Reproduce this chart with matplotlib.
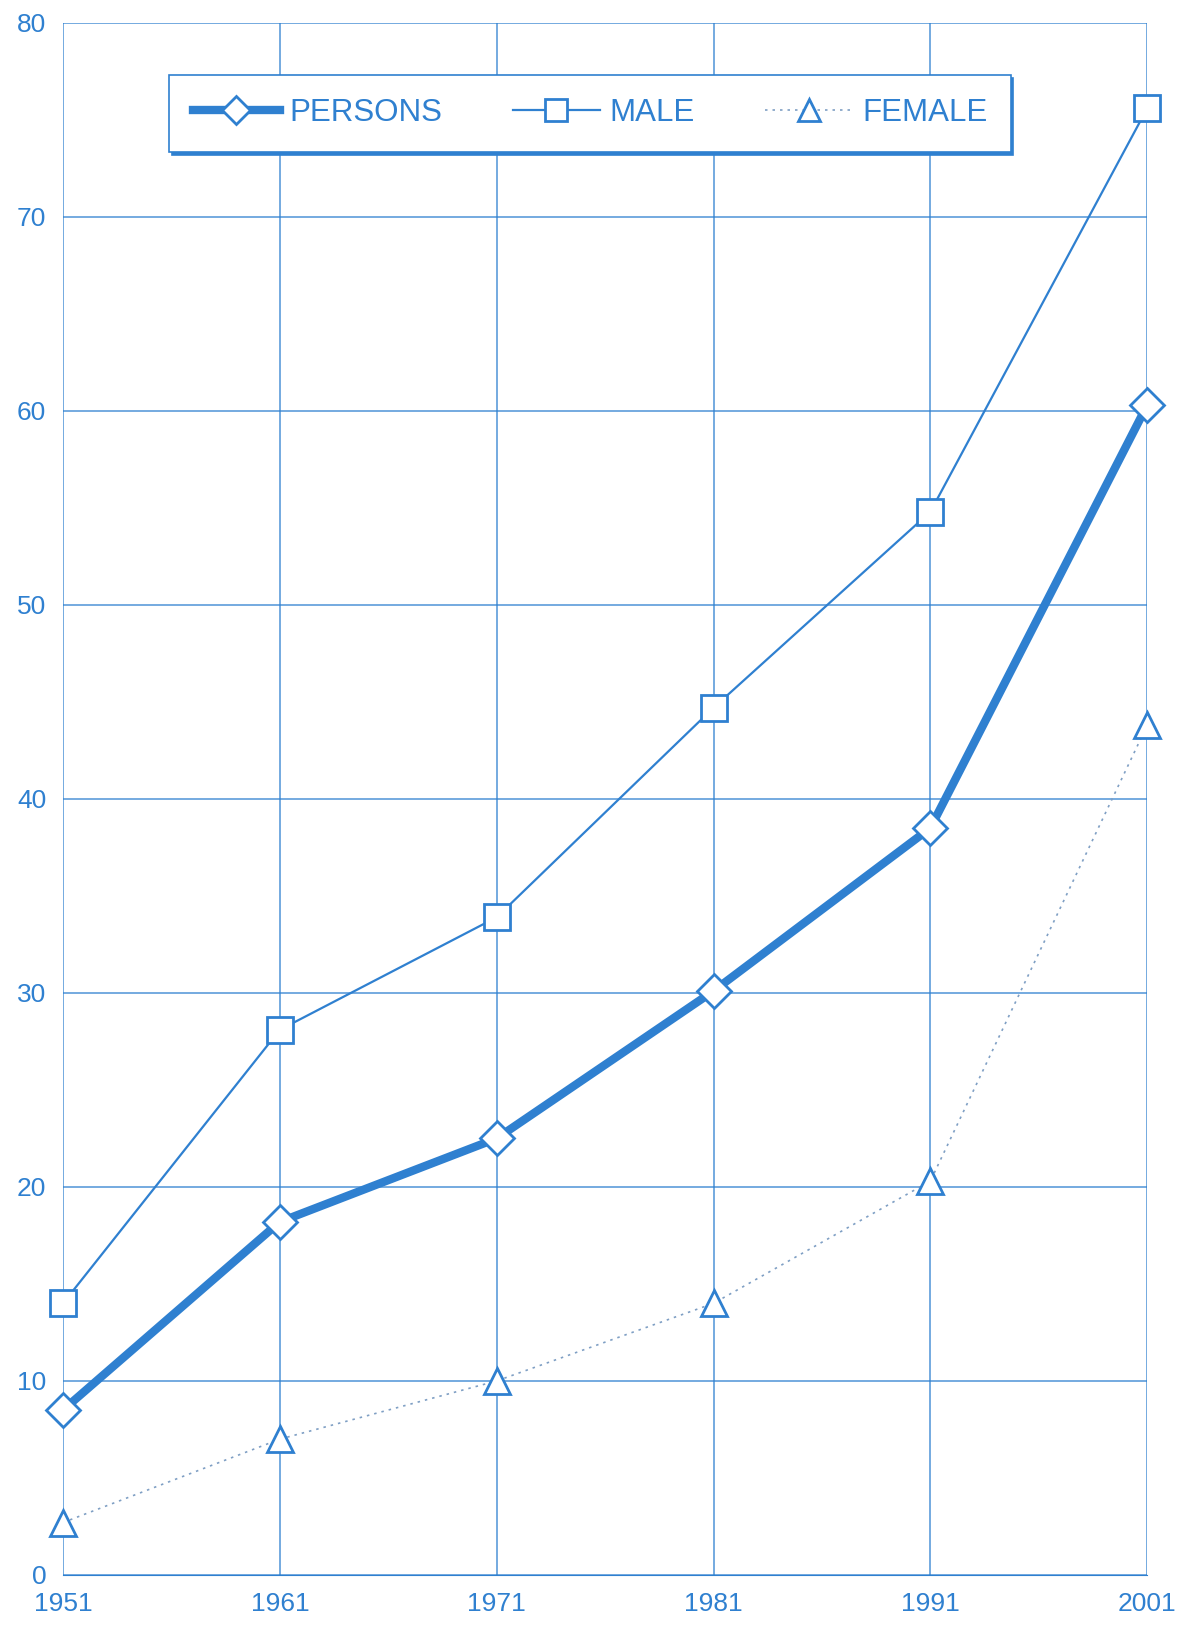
import matplotlib.pyplot as plt

plt.rcParams['font.family'] = ['Liberation Sans', 'DejaVu Sans']

years = [1951, 1961, 1971, 1981, 1991, 2001]
persons = [8.5, 18.2, 22.5, 30.1, 38.5, 60.3]
male = [14.0, 28.1, 33.9, 44.7, 54.8, 75.6]
female = [2.7, 7.0, 10.0, 14.0, 20.3, 43.8]
yticks = [0, 10, 20, 30, 40, 50, 60, 70, 80]

blue = '#2f80d0'

fig = plt.figure(figsize=(11.95, 16.26), dpi=100)
ax = fig.add_axes([0.0527, 0.0314, 0.9073, 0.9545])

ax.plot(years, persons, color=blue, linewidth=6, marker='D', markersize=17,
        markerfacecolor='white', markeredgecolor=blue, markeredgewidth=2,
        label='PERSONS', zorder=4, clip_on=False)
ax.plot(years, male, color=blue, linewidth=1.6, marker='s', markersize=19,
        markerfacecolor='white', markeredgecolor=blue, markeredgewidth=2,
        label='MALE', zorder=4, clip_on=False)
ax.plot(years, female, color='#7f9fc4', linewidth=1.2, linestyle=(0, (1.5, 3)),
        marker='^', markersize=19, markerfacecolor='white',
        markeredgecolor=blue, markeredgewidth=2, label='FEMALE', zorder=4,
        clip_on=False)

ax.set_xlim(1951, 2001)
ax.set_ylim(0, 80)
ax.set_xticks(years)
ax.set_yticks(yticks)
ax.grid(True, color=blue, linewidth=1.1, alpha=0.85)
ax.tick_params(length=0, labelsize=19, labelcolor=blue, pad=12)
for s in ax.spines.values():
    s.set_visible(False)
ax.spines['bottom'].set_visible(True)
ax.spines['bottom'].set_color(blue)

# legend box with a blue drop shadow on bottom/right
leg = ax.legend(loc='upper left', bbox_to_anchor=(0.098, 0.9265, 0.776, 0.04),
                mode='expand', ncol=3, fontsize=22.5, frameon=True, fancybox=False,
                handlelength=2.8, handletextpad=0.3, borderpad=0.75,
                borderaxespad=0, markerscale=0.85, labelcolor=blue,
                edgecolor=blue, framealpha=1,
                shadow={'color': blue, 'alpha': 1})
leg.get_frame().set_linewidth(1.2)
leg.set_zorder(10)

fig.savefig('out.png', dpi=100, facecolor='white')
